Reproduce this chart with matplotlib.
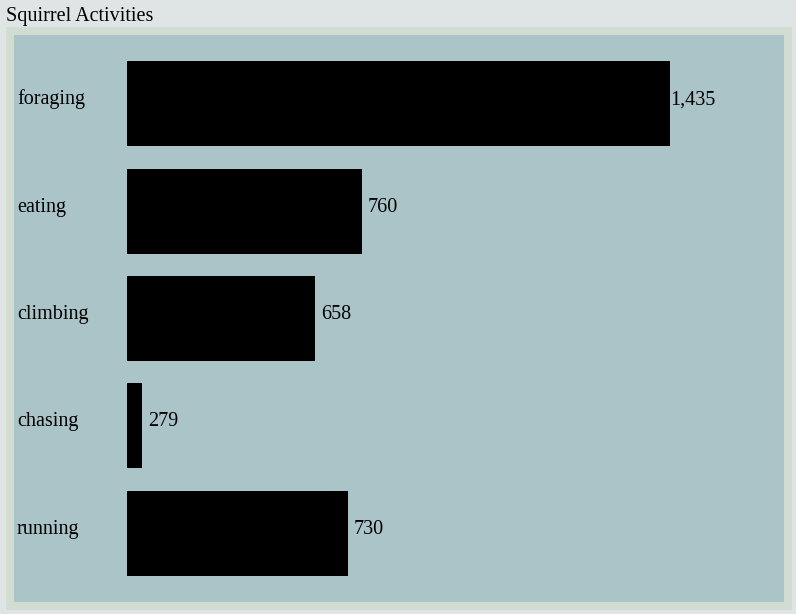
import matplotlib.pyplot as plt
import matplotlib.patches as mpatches
import matplotlib.transforms as mtransforms

activities = ["foraging", "eating", "climbing", "chasing", "running"]
counts = [1435, 760, 658, 279, 730]

W, H = 796, 614
plt.rcParams['font.family'] = ['Liberation Serif', 'DejaVu Serif']

fig = plt.figure(figsize=(W / 100, H / 100), dpi=100)
fig.patch.set_facecolor('#dfe5e5')

# frame and panel, in pixels
def px_rect(x0, y0, x1, y1, color):
    fig.patches.append(mpatches.Rectangle((x0 / W, 1 - y1 / H), (x1 - x0) / W, (y1 - y0) / H,
                                          transform=fig.transFigure, facecolor=color,
                                          edgecolor='none', zorder=-2))

px_rect(6, 27, 792, 610, '#d0ddd0')
px_rect(14, 35, 784, 602, '#aac4c8')

fig.text(6 / W, 1 - 21.5 / H, "Squirrel Activities", fontsize=14.5, va='baseline', ha='left')

ax_left, ax_right = 127, 784
ax_top, ax_bot = 50, 587
ax = fig.add_axes([ax_left / W, 1 - ax_bot / H, (ax_right - ax_left) / W, (ax_bot - ax_top) / H])
ax.set_facecolor('none')
for s in ax.spines.values():
    s.set_visible(False)
ax.set_xticks([])
ax.set_yticks([])

x0 = 246
scale = 0.4567  # px per unit
ax.set_xlim(x0, x0 + (ax_right - ax_left) / scale)
ax.set_ylim(len(activities) - 0.5, -0.5)

ypos = range(len(activities))
ax.barh(ypos, [c - x0 for c in counts], left=x0, height=0.79, color='black')

blend = mtransforms.blended_transform_factory(fig.transFigure, ax.transData)
blend = mtransforms.offset_copy(blend, fig, y=-0.5, units='dots')
val_tr = mtransforms.offset_copy(ax.transData, fig, y=-0.5, units='dots')
for i, (name, c) in enumerate(zip(activities, counts)):
    ax.text(17 / W, i, name, transform=blend, fontsize=14.5, va='baseline', ha='left')
    off = 0 if c == max(counts) else 13
    ax.text(c + off, i, f"{c:,}", transform=val_tr, fontsize=14.5, va='baseline', ha='left')

fig.savefig("out.png", dpi=100, facecolor=fig.get_facecolor())
